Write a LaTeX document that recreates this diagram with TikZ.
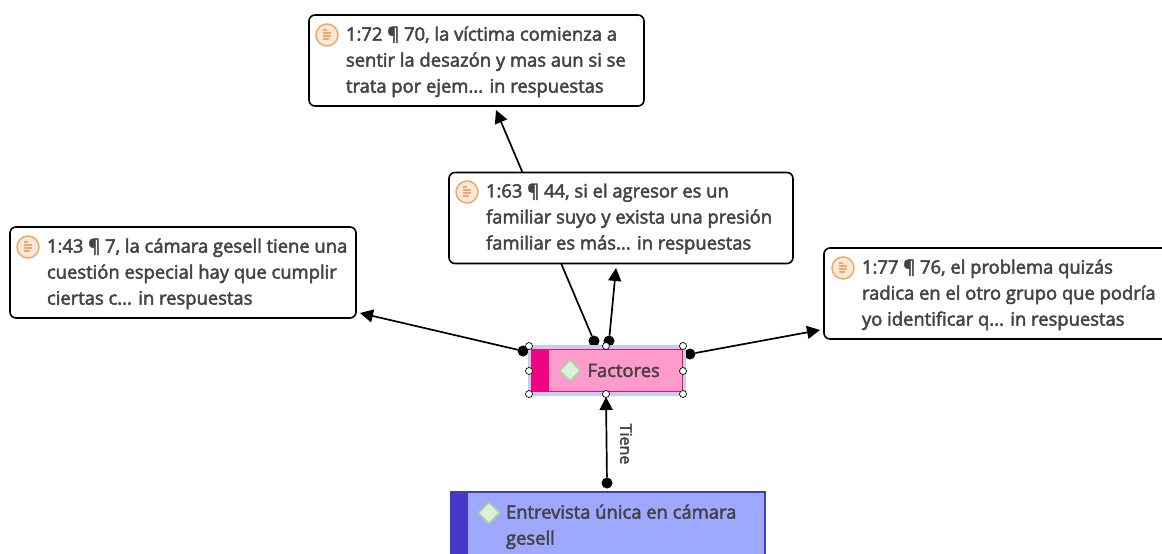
\documentclass[tikz,border=0pt]{standalone}
\usepackage{fontspec}
\setmainfont{Open Sans}[FakeBold=2.6]
\usepackage{tikz}
\usetikzlibrary{positioning, arrows.meta, shapes.geometric}
\definecolor{memoink}{HTML}{444444}
\definecolor{iconline}{HTML}{F0A868}
\definecolor{iconfill}{HTML}{FCE8D8}
\definecolor{codepink}{HTML}{FF9BCB}
\definecolor{codestrip}{HTML}{F0047F}
\definecolor{groupblue}{HTML}{9FA8FF}
\definecolor{groupstrip}{HTML}{4338C8}
\definecolor{selectblue}{HTML}{BFD2E6}
\definecolor{diamondfill}{HTML}{DDEEDA}
\definecolor{diamondline}{HTML}{A8D4A0}

\begin{document}
\begin{tikzpicture}[x=1pt, y=-1pt,
    every node/.style = {inner sep=0pt, outer sep=0pt},
    memo/.style = {draw=black, line width=1.6pt, rounded corners=6pt, fill=white, minimum height=91pt},
    memotext/.style = {align=left, text=memoink, font=\fontsize{18.4}{26}\selectfont},
    noteicon/.style = {circle, draw=iconline, fill=iconfill, line width=1.5pt, minimum size=22pt,
        path picture={
            \draw[iconline, line width=1.1pt]
                ([xshift=-4pt,yshift=5pt]path picture bounding box.center) -- ++(4,0)
                ([xshift=-4pt,yshift=2pt]path picture bounding box.center) -- ++(8,0)
                ([xshift=-4pt,yshift=-1pt]path picture bounding box.center) -- ++(8,0)
                ([xshift=-4pt,yshift=-4pt]path picture bounding box.center) -- ++(6,0);
        }},
    diamondicon/.style = {diamond, draw=diamondline, fill=diamondfill, line width=1.5pt, minimum size=21pt},
    handle/.style = {circle, draw=black, fill=white, line width=0.7pt, minimum size=7pt},
    dot/.style = {circle, fill=black, minimum size=11pt},
    link/.style = {line width=1.7pt, -{Triangle[length=13pt, width=13pt]}}]
\clip (0,0) rectangle (1162,554);

% connectors run under the boxes
\node[dot] (dotA) at (594,341) {};
\node[dot] (dotB) at (609,341) {};
\node[dot] (dotC) at (523,351) {};
\node[dot] (dotD) at (690,354) {};
\node[dot] (dotG) at (607,483) {};
\coordinate (tipA) at (496,110);
\coordinate (tipB) at (616,268);
\coordinate (tipC) at (360,313);
\coordinate (tipD) at (820,330);
\coordinate (tipF) at (606,397);
\draw[link] (dotA) -- (tipA);

% memo boxes
\node[memo, minimum width=335pt] (A) at (476.5,60.5) {};
\node[memo, minimum width=344pt] (B) at (621,218) {};
\node[memo, minimum width=346pt] (C) at (183,272.5) {};
\node[memo, minimum width=350pt] (D) at (999,293.5) {};

\node[noteicon] (iconA) at (327,35) {};
\node[noteicon] (iconB) at (467,192) {};
\node[noteicon] (iconC) at (28,247) {};
\node[noteicon] (iconD) at (843,268) {};

\node[memotext, anchor=north west] (textA) at (346,26.5) {1:72 ¶ 70, la víctima comienza a\\sentir la desazón y mas aun si se\\trata por ejem... in respuestas};
\node[memotext, anchor=north west] (textB) at (486,183.5) {1:63 ¶ 44, si el agresor es un\\familiar suyo y exista una presión\\familiar es más... in respuestas};
\node[memotext, anchor=north west] (textC) at (47,238.5) {1:43 ¶ 7, la cámara gesell tiene una\\cuestión especial hay que cumplir\\ciertas c... in respuestas};
\node[memotext, anchor=north west] (textD) at (862,259.5) {1:77 ¶ 76, el problema quizás\\radica en el otro grupo que podría\\yo identificar q... in respuestas};

% selected code
\fill[selectblue] (528,345) rectangle (686,396);
\draw[codestrip, fill=codepink, line width=0.8pt] (531.5,349.5) rectangle (682.5,391.5);
\fill[codestrip] (531.5,349.5) rectangle (549,391.5);
\node[diamondicon] (iconF) at (570,370.5) {};
\node[memotext, right=7pt of iconF] (factores) {Factores};

\foreach \hx/\hy [count=\hi] in {529/346, 606/346, 683/346, 529/371, 683/371, 529/394, 606/394, 683/394}
    \node[handle] (h\hi) at (\hx,\hy) {};

% group box
\draw[groupstrip, fill=groupblue, line width=1.5pt] (451,492) rectangle (765,570);
\fill[groupstrip] (451,492) rectangle (468,570);
\node[diamondicon] (iconG) at (489,513) {};
\node[memotext, anchor=north west] (entrevista) at (506,504.5) {Entrevista única en cámara\\gesell};

% links
\draw[link] (dotB) -- (tipB);
\draw[link] (dotC) -- (tipC);
\draw[link] (dotD) -- (tipD);
\draw[link] (dotG) -- (tipF);
\node[rotate=-90, text=memoink, font=\fontsize{16}{18}\selectfont] (tiene) at (626,444) {Tiene};

\end{tikzpicture}
\end{document}
